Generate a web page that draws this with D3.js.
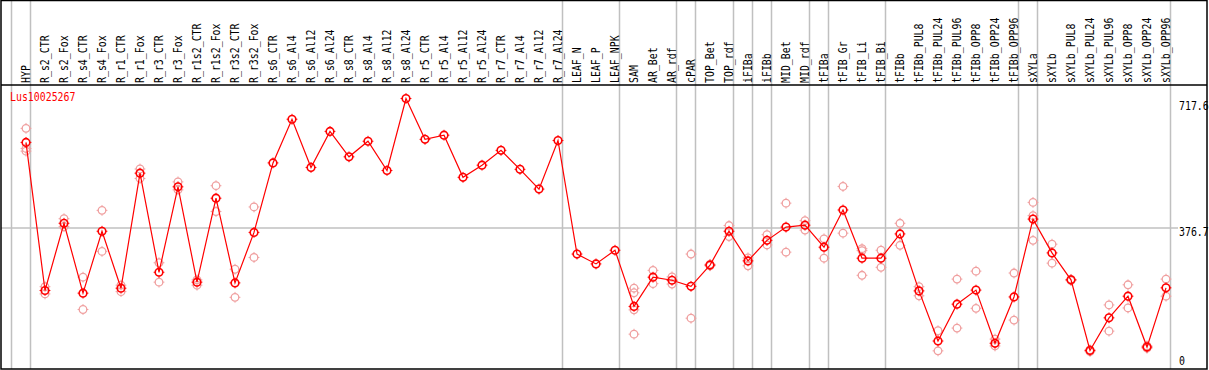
<!DOCTYPE html>
<html>
<head>
<meta charset="utf-8">
<script src="https://cdn.jsdelivr.net/npm/d3@7"></script>
<style>
  html, body { margin: 0; padding: 0; background: #fff; }
  svg { display: block; }
  text { font-family: "DejaVu Sans Mono", monospace; font-size: 11.5px; }
</style>
</head>
<body>
<svg id="chart" width="1209" height="370"></svg>
<script>
// gene and samples
const geneName = 'Lus10025267';

const samples = [
  'HYP', 'R_s2_CTR', 'R_s2_Fox', 'R_s4_CTR', 'R_s4_Fox', 'R_r1_CTR', 'R_r1_Fox',
  'R_r3_CTR', 'R_r3_Fox', 'R_r1s2_CTR', 'R_r1s2_Fox', 'R_r3s2_CTR', 'R_r3s2_Fox',
  'R_s6_CTR', 'R_s6_Al4', 'R_s6_Al12', 'R_s6_Al24', 'R_s8_CTR', 'R_s8_Al4',
  'R_s8_Al12', 'R_s8_Al24', 'R_r5_CTR', 'R_r5_Al4', 'R_r5_Al12', 'R_r5_Al24',
  'R_r7_CTR', 'R_r7_Al4', 'R_r7_Al12', 'R_r7_Al24', 'LEAF_N', 'LEAF_P', 'LEAF_NPK',
  'SAM', 'AR_Bet', 'AR_rdf', 'cPAR', 'TOP_Bet', 'TOP_rdf', 'iFIBa', 'iFIBb',
  'MID_Bet', 'MID_rdf', 'tFIBa', 'tFIB_Gr', 'tFIB_Li', 'tFIB_Bi', 'tFIBb',
  'tFIBb_PUL8', 'tFIBb_PUL24', 'tFIBb_PUL96', 'tFIBb_OPP8', 'tFIBb_OPP24', 'tFIBb_OPP96',
  'sXYLa', 'sXYLb', 'sXYLb_PUL8', 'sXYLb_PUL24', 'sXYLb_PUL96', 'sXYLb_OPP8',
  'sXYLb_OPP24', 'sXYLb_OPP96'
];

// mean expression per sample
const means = [
  602, 212, 389, 205, 368, 218, 521, 260, 485, 234, 455, 232, 365,
  548, 663, 536, 631, 564, 605, 528, 717.6, 610, 621, 510, 542, 581, 531, 479, 607,
  308, 282, 318,
  170, 247, 239, 223, 279, 368, 290, 344, 379, 384, 326, 424, 297, 297, 361,
  211, 79, 176, 213, 73, 195,
  400, 311, 240, 54, 140, 197, 63, 219
];

// individual replicates per sample
const replicates = [
  [639, 586, 579], [222, 203], [401, 380], [247, 162], [423, 315], [226, 209],
  [532, 507], [285, 234], [498, 477], [240, 226], [488, 420], [268, 194], [432, 299],
  [], [], [], [], [], [], [], [], [], [], [], [], [], [], [], [],
  [], [], [],
  [218, 206, 161, 97], [265, 230], [248, 229], [308, 139], [281, 277], [383, 354],
  [298, 277], [359, 332], [442, 313], [396, 371], [348, 297], [486, 363],
  [322, 317, 252], [318, 273], [389, 331],
  [222, 198], [106, 53], [242, 113], [263, 165], [84, 66], [258, 134],
  [444, 409, 344], [334, 284], [241, 238], [56, 51], [174, 105], [227, 166],
  [66, 60], [242, 197]
];

// index of the last sample in each group (separator lines)
const groupEnds = [-1, 0, 28, 31, 34, 35, 37, 38, 39, 41, 42, 45, 52, 53, 60];

const yTicks = [0, 376.7, 717.6];
const gridValue = 376.7;

const svg = d3.select('#chart');
const frame = { left: 1, right: 1207, top: 0, header: 85, bottom: 369 };
const squeeze = 'scale(0.86,1)'; // narrow monospace look

const xScale = d3.scaleLinear()
  .domain([0, samples.length - 1])
  .range([26, 1166]);

const yScale = d3.scaleLinear()
  .domain([0, 717.6])
  .range([371, 98.5]);

// horizontal grid line
svg.append('line')
  .attr('x1', frame.left).attr('x2', 1178)
  .attr('y1', yScale(gridValue)).attr('y2', yScale(gridValue))
  .attr('stroke', '#c0c0c0').attr('stroke-width', 1.5);

// group separators
svg.selectAll('line.sep')
  .data(groupEnds)
  .enter().append('line')
  .attr('class', 'sep')
  .attr('x1', d => xScale(d) + 4.5).attr('x2', d => xScale(d) + 4.5)
  .attr('y1', frame.top).attr('y2', frame.bottom)
  .attr('stroke', '#c0c0c0').attr('stroke-width', 1.5);

// frame
svg.append('rect')
  .attr('x', frame.left).attr('y', frame.top + 0.5)
  .attr('width', frame.right - frame.left).attr('height', frame.bottom - frame.top - 0.5)
  .attr('fill', 'none').attr('stroke', '#000').attr('stroke-width', 1.5);
svg.append('line')
  .attr('x1', frame.left).attr('x2', frame.right)
  .attr('y1', frame.header).attr('y2', frame.header)
  .attr('stroke', '#000').attr('stroke-width', 1.5);

// sample labels
svg.selectAll('text.sample')
  .data(samples)
  .enter().append('text')
  .attr('class', 'sample')
  .attr('transform', (d, i) => `translate(${xScale(i) + 4}, 83) rotate(-90) ${squeeze}`)
  .attr('fill', '#000')
  .text(d => d);

// y labels
svg.selectAll('text.ytick')
  .data(yTicks)
  .enter().append('text')
  .attr('class', 'ytick')
  .attr('transform', d => `translate(1179, ${Math.max(110, Math.min(365, yScale(d) + 8))}) ${squeeze}`)
  .attr('fill', '#000')
  .text(d => d);

svg.append('text')
  .attr('transform', `translate(10, 101) ${squeeze}`)
  .attr('fill', '#ff0000')
  .text(geneName);

function drawMarker(g, x, y, color, sw) {
  const r = 3.8;
  g.append('circle')
    .attr('cx', x).attr('cy', y).attr('r', r)
    .attr('fill', 'none').attr('stroke', color).attr('stroke-width', sw);
  [[0, -1], [0, 1], [-1, 0], [1, 0]].forEach(([dx, dy]) => {
    g.append('line')
      .attr('x1', x + dx * r).attr('y1', y + dy * r)
      .attr('x2', x + dx * (r + 1.6)).attr('y2', y + dy * (r + 1.6))
      .attr('stroke', color).attr('stroke-width', 1);
  });
}

// replicate markers
const repGroup = svg.append('g');
replicates.forEach((reps, i) => {
  reps.forEach(v => drawMarker(repGroup, xScale(i), yScale(v), '#f0a0a0', 1.3));
});

// mean line
const line = d3.line()
  .x((d, i) => xScale(i))
  .y(d => yScale(d));

svg.append('path')
  .datum(means)
  .attr('d', line)
  .attr('fill', 'none')
  .attr('stroke', '#ff0000')
  .attr('stroke-width', 1.2);

const meanGroup = svg.append('g');
means.forEach((v, i) => drawMarker(meanGroup, xScale(i), yScale(v), '#ff0000', 1.6));
</script>
</body>
</html>
